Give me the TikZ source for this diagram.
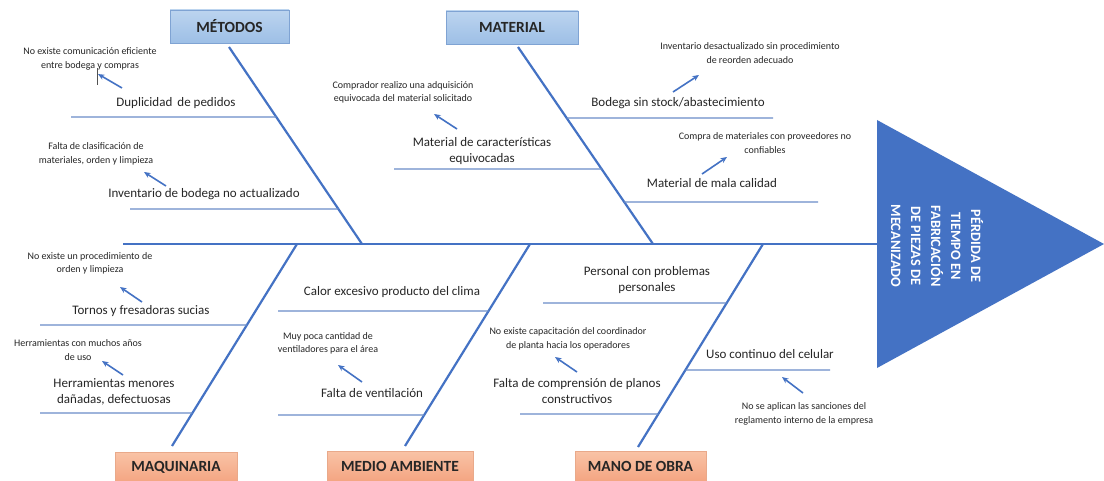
\documentclass[tikz,border=0pt]{standalone}
\usepackage{fontspec}
\setmainfont{Carlito}
\usetikzlibrary{arrows.meta,calc}
\definecolor{bone}{HTML}{4472C4}
\definecolor{twig}{HTML}{6A8DC8}
\definecolor{headblue}{HTML}{4472C4}
\definecolor{boxtopA}{HTML}{BCD4EF}
\definecolor{boxtopB}{HTML}{9DBFE6}
\definecolor{boxtopE}{HTML}{7FA3D3}
\definecolor{boxbotA}{HTML}{F9C3A6}
\definecolor{boxbotB}{HTML}{F4A582}
\definecolor{boxbotE}{HTML}{E9A98A}
\definecolor{txt}{HTML}{262626}
\tikzset{
  spineline/.style={draw=bone, line width=2.6pt},
  boneline/.style={draw=bone, line width=2.2pt},
  twigline/.style={draw=twig, line width=1.4pt},
  causearrow/.style={draw=bone, line width=1.6pt, -{Stealth[length=6.5pt,width=5.5pt]}},
  catup/.style={draw=boxtopE, line width=0.6pt, top color=boxtopA, bottom color=boxtopB,
     font=\fontsize{15.5}{17}\selectfont\bfseries, text=txt, inner sep=0pt},
  catdown/.style={draw=boxbotE, line width=0.6pt, top color=boxbotA, bottom color=boxbotB,
     font=\fontsize{15.5}{17}\selectfont\bfseries, text=txt, inner sep=0pt},
  small/.style={font=\fontsize{10}{13.5}\selectfont, text=txt, align=center, inner sep=0pt},
  cause/.style={font=\fontsize{13}{16}\selectfont, text=txt, align=center, inner sep=0pt},
}
\begin{document}
\begin{tikzpicture}[x=1pt,y=-1pt]
\useasboundingbox (0,0) rectangle (1104,481);
\fill[white] (0,0) rectangle (1104,481);

% head
\coordinate (hTop) at (877,120);
\coordinate (hTip) at (1104,244);
\coordinate (hBot) at (877,368);
\fill[headblue] (hTop) -- (hTip) -- (hBot) -- cycle;
\node[rotate=-90, text=white, font=\fontsize{14.3}{20}\selectfont\bfseries, align=center, inner sep=0pt]
  (effect) at (937,246) {PÉRDIDA DE\\TIEMPO EN\\FABRICACIÓN\\DE PIEZAS DE\\MECANIZADO};

% spine
\coordinate (spL) at (123,244);
\coordinate (spR) at (877,244);
\draw[spineline] (spL) -- (spR);

% category boxes
\node[catup, minimum width=119pt, minimum height=33pt] (metodos) at (229.5,26.5) {MÉTODOS};
\node[catup, minimum width=132pt, minimum height=33pt] (material) at (512,27.5) {MATERIAL};
\node[catdown, minimum width=122pt, minimum height=30pt] (maquinaria) at (176,467) {MAQUINARIA};
\node[catdown, minimum width=146pt, minimum height=30pt] (medio) at (400,466) {MEDIO AMBIENTE};
\node[catdown, minimum width=131pt, minimum height=30pt] (mano) at (640.5,466) {MANO DE OBRA};

% bones
\coordinate (mtT) at (229,47);   \coordinate (mtB) at (362,244);
\coordinate (maT) at (518,47);   \coordinate (maB) at (653,244);
\coordinate (mqT) at (297,244);  \coordinate (mqB) at (172,446);
\coordinate (meT) at (530,244);  \coordinate (meB) at (405,446);
\coordinate (moT) at (763,244);  \coordinate (moB) at (638,447);
\draw[boneline] (mtT) -- (mtB);
\draw[boneline] (maT) -- (maB);
\draw[boneline] (mqT) -- (mqB);
\draw[boneline] (meT) -- (meB);
\draw[boneline] (moT) -- (moB);

% twig end points
\coordinate (t1L) at (71,117);   \coordinate (t1R) at (intersection of mtT--mtB and 0,117--1000,117);
\coordinate (t2L) at (130,209);  \coordinate (t2R) at (intersection of mtT--mtB and 0,209--1000,209);
\coordinate (t3L) at (394,169);  \coordinate (t3R) at (intersection of maT--maB and 0,169--1000,169);
\coordinate (t4R) at (773,118);  \coordinate (t4L) at (intersection of maT--maB and 0,118--1000,118);
\coordinate (t5R) at (818,202);  \coordinate (t5L) at (intersection of maT--maB and 0,202--1000,202);
\coordinate (t6L) at (40,325);   \coordinate (t6R) at (intersection of mqT--mqB and 0,325--1000,325);
\coordinate (t7L) at (40,413);   \coordinate (t7R) at (intersection of mqT--mqB and 0,413--1000,413);
\coordinate (t8L) at (278,311);  \coordinate (t8R) at (intersection of meT--meB and 0,311--1000,311);
\coordinate (t9L) at (278,415);  \coordinate (t9R) at (intersection of meT--meB and 0,415--1000,415);
\coordinate (t10L) at (543,303); \coordinate (t10R) at (intersection of moT--moB and 0,303--1000,303);
\coordinate (t11L) at (520,414); \coordinate (t11R) at (intersection of moT--moB and 0,414--1000,414);
\coordinate (t12R) at (830,370); \coordinate (t12L) at (intersection of moT--moB and 0,370--1000,370);
\foreach \i in {1,...,12} { \draw[twigline] (t\i L) -- (t\i R); }

% cause texts
\node[cause] (c1) at (176,103) {Duplicidad \,de pedidos};
\node[cause] (c2) at (204,194) {Inventario de bodega no actualizado};
\node[cause] (c3) at (482,151) {Material de características\\equivocadas};
\node[cause] (c4) at (678,103) {Bodega sin stock/abastecimiento};
\node[cause] (c5) at (712,183) {Material de mala calidad};
\node[cause] (c6) at (141,311) {Tornos y fresadoras sucias};
\node[cause] (c7) at (114,391.5) {Herramientas menores\\dañadas, defectuosas};
\node[cause] (c8) at (392,292) {Calor excesivo producto del clima};
\node[cause] (c9) at (372,393) {Falta de ventilación};
\node[cause] (c10) at (647,280) {Personal con problemas\\personales};
\node[cause] (c11) at (577,391.5) {Falta de comprensión de planos\\constructivos};
\node[cause] (c12) at (770,354) {Uso continuo del celular};

% sub-cause texts
\node[small] (s1) at (90,59) {No existe comunicación eficiente\\entre bodega y compras};
\node[small] (s2) at (96,154) {Falta de clasificación de\\materiales, orden y limpieza};
\node[small] (s3) at (403,92.5) {Comprador realizo una adquisición\\equivocada del material solicitado};
\node[small] (s4) at (750,53) {Inventario desactualizado sin procedimiento\\de reorden adecuado};
\node[small] (s5) at (765,143) {Compra de materiales con proveedores no\\confiables};
\node[small] (s6) at (90,263.5) {No existe un procedimiento de\\orden y limpieza};
\node[small] (s7) at (78,350) {Herramientas con muchos años\\de uso};
\node[small] (s8) at (328,343.5) {Muy poca cantidad de\\ventiladores para el área};
\node[small] (s9) at (568,339) {No existe capacitación del coordinador\\de planta hacia los operadores};
\node[small] (s10) at (804,414) {No se aplican las sanciones del\\reglamento interno de la empresa};

% arrows
\coordinate (a1s) at (122,88);  \coordinate (a1e) at (98,74);
\coordinate (a2s) at (166,186); \coordinate (a2e) at (144,172);
\coordinate (a3s) at (457,129); \coordinate (a3e) at (434,114);
\coordinate (a4s) at (673,92);  \coordinate (a4e) at (699,75);
\coordinate (a5s) at (702,174); \coordinate (a5e) at (727,157);
\coordinate (a6s) at (142,302); \coordinate (a6e) at (120,287);
\coordinate (a7s) at (123,375); \coordinate (a7e) at (102,361);
\coordinate (a8s) at (362,382); \coordinate (a8e) at (338,365);
\coordinate (a9s) at (577,372); \coordinate (a9e) at (555,357);
\coordinate (a10s) at (803,393); \coordinate (a10e) at (782,377);
\foreach \i in {1,...,10} { \draw[causearrow] (a\i s) -- (a\i e); }

% stray cursor mark
\coordinate (curT) at (97,68); \coordinate (curB) at (97,85);
\draw[draw=txt!80, line width=0.6pt] (curT) -- (curB);
\end{tikzpicture}
\end{document}
